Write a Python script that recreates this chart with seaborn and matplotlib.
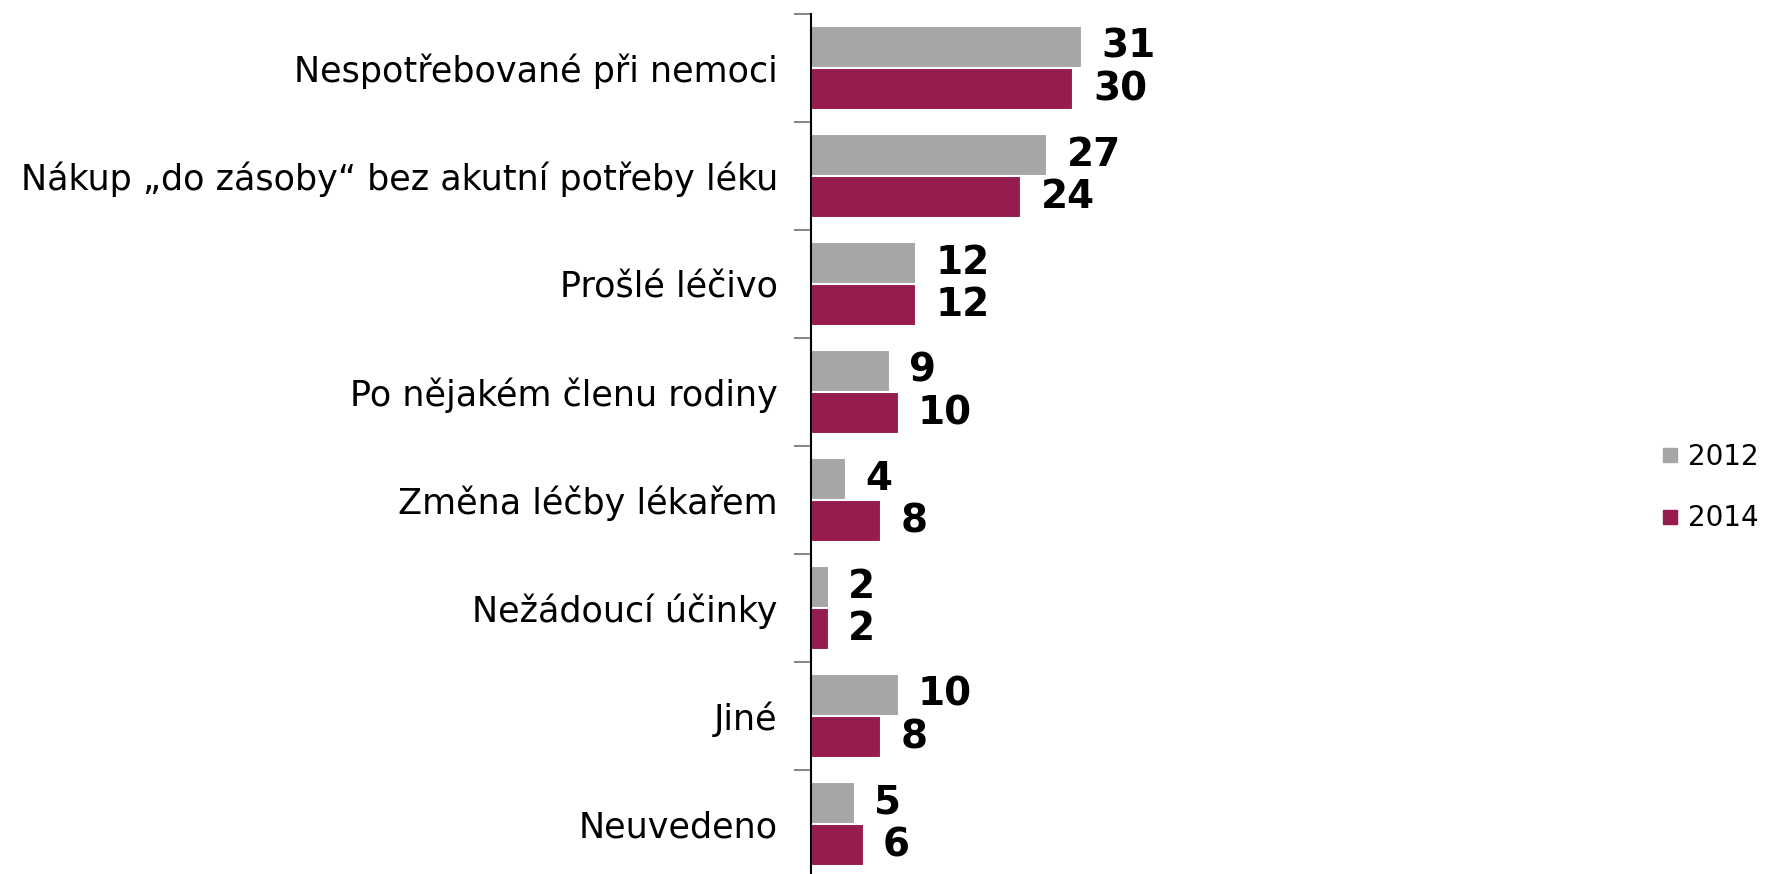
import matplotlib
matplotlib.use("Agg")
import matplotlib.pyplot as plt
from matplotlib.lines import Line2D
import seaborn as sns
import pandas as pd

categories = [
    "Nespotřebované při nemoci",
    "Nákup „do zásoby“ bez akutní potřeby léku",
    "Prošlé léčivo",
    "Po nějakém členu rodiny",
    "Změna léčby lékařem",
    "Nežádoucí účinky",
    "Jiné",
    "Neuvedeno",
]
values_2012 = [31, 27, 12, 9, 4, 2, 10, 5]
values_2014 = [30, 24, 12, 10, 8, 2, 8, 6]
years = ["2012", "2014"]
colors = ["#A6A6A6", "#961C50"]

df = pd.DataFrame({
    "Důvod": categories * 2,
    "Podíl": values_2012 + values_2014,
    "Rok": [years[0]] * len(categories) + [years[1]] * len(categories),
})

sns.set_theme(style="white")
plt.rcParams["font.family"] = ["DejaVu Sans"]

fig = plt.figure(figsize=(17.69, 8.74), dpi=100)
ax = fig.add_axes([0.4585, -0.0046, 0.40, 0.9886])

sns.barplot(
    data=df, y="Důvod", x="Podíl", hue="Rok", order=categories,
    hue_order=years, palette=colors, orient="h", width=0.78,
    edgecolor="white", linewidth=1.5, saturation=1, ax=ax, legend=False,
)

for cont in ax.containers:
    ax.bar_label(cont, fmt="%d", padding=14, fontsize=28,
                 fontweight="bold", color="black")

ax.set_xlim(0, 80.9)
ax.set_ylim(len(categories) - 0.5, -0.5)
ax.set_xlabel("")
ax.set_ylabel("")
ax.xaxis.set_visible(False)
for side in ["top", "right", "bottom"]:
    ax.spines[side].set_visible(False)
ax.spines["left"].set_color("black")
ax.spines["left"].set_linewidth(1.5)

# category names centred on each group, boundary ticks between groups
ax.tick_params(axis="y", which="major", length=0, pad=24, labelsize=25.2,
               labelcolor="black")
ax.set_yticks(range(len(categories)), categories)
ax.set_yticks([i - 0.5 for i in range(len(categories) + 1)], minor=True)
ax.tick_params(axis="y", which="minor", length=12, width=1.2,
               color="#707070", direction="out", left=True)

handles = [Line2D([0], [0], marker="s", linestyle="none", markersize=10,
                  markerfacecolor=c, markeredgecolor=c) for c in colors]
fig.legend(handles, years, loc="center left", bbox_to_anchor=(0.9395, 0.442),
           frameon=False, fontsize=20, handlelength=0.6, handletextpad=0.35,
           labelspacing=1.2, borderaxespad=0, borderpad=0, labelcolor="black")

fig.savefig("out.png", dpi=100)
